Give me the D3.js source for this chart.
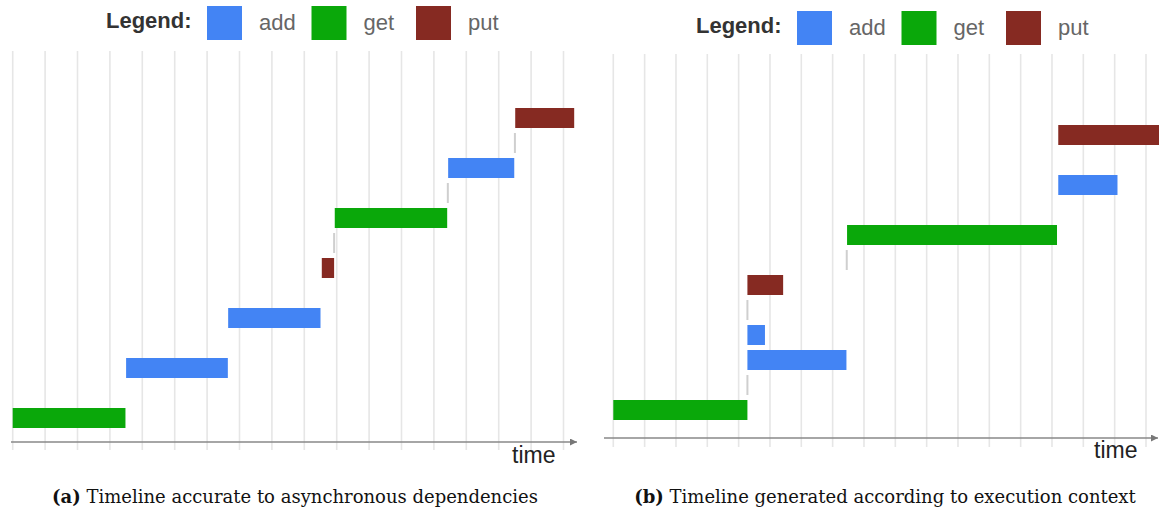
<html>
<head>
    <script src="https://d3js.org/d3.v7.min.js"></script>
    <style type="text/css">
        body { margin: 0; background: #fff; }
        line.grid { stroke: #e6e6e6; stroke-width: 1.6; }
        line.conn { stroke: #cfcfcf; stroke-width: 2; }
        line.axis { stroke: #888; stroke-width: 1.5; }
        text.legtitle { font-family: "Liberation Sans", Arial, sans-serif; font-weight: bold; font-size: 22px; fill: #333; }
        text.legitem { font-family: "Liberation Sans", Arial, sans-serif; font-size: 22px; fill: #666; }
        text.time { font-family: "Liberation Sans", Arial, sans-serif; font-size: 23px; fill: #222; }
        text.caption { font-family: "DejaVu Serif", serif; font-size: 18px; fill: #111; }
    </style>
</head>

<body>
    <svg></svg>

    <script>
        // operation kinds and colours
        const Kinds = ["add", "get", "put"];
        const KindColors = ["#4384f4", "#0aa80a", "#862a22"];

        // (a) timeline accurate to asynchronous dependencies
        const opsA   = ["get", "add", "add", "put", "get", "add", "put"];
        const startA = [0,     3.50,  6.65,  9.54,  9.94,  13.44, 15.51];
        const endA   = [3.48,  6.64,  9.50,  9.92,  13.41, 15.48, 17.33];
        const laneA  = [0,     2,     4,     6,     8,     10,    12];
        const connTimeA = [9.92, 13.43, 15.50];
        const connLowA  = [6, 8, 10];
        const connHighA = [8, 10, 12];

        // (b) timeline generated according to execution context
        const opsB   = ["get", "add", "add", "put", "get", "add", "put"];
        const startB = [0,     4.28,  4.28,  4.28,  7.46,  14.20, 14.20];
        const endB   = [4.28,  7.44,  4.84,  5.42,  14.16, 16.09, 17.80];
        const laneB  = [0,     2,     3,     5,     7,     9,     11];
        const connTimeB = [4.28, 4.28, 7.45];
        const connLowB  = [0, 3, 5];
        const connHighB = [2, 5, 7];

        const NTicks = 17;

        const Width = 1159, Height = 510, BarH = 20;

        var svg = d3.select("svg")
            .attr("width", Width).attr("height", Height);

        svg.append("rect").attr("width", Width).attr("height", Height).attr("fill", "#fff");

        svg.append("defs").append("marker")
            .attr("id", "arrow")
            .attr("viewBox", "0 0 10 10")
            .attr("refX", 10).attr("refY", 5)
            .attr("markerWidth", 9).attr("markerHeight", 7)
            .attr("markerUnits", "userSpaceOnUse")
            .attr("orient", "auto")
            .append("path").attr("d", "M0,0 L10,5 L0,10 Z").attr("fill", "#777");

        function drawPanel(p)
        {
            var g = svg.append("g");
            var x = d3.scaleLinear().domain([0, NTicks]).range(p.xRange);
            var y = d3.scaleLinear().domain([0, 12]).range(p.yRange);
            var color = d3.scaleOrdinal().domain(Kinds).range(KindColors);

            // vertical grid
            g.selectAll("line.grid")
                .data(x.ticks(NTicks))
                .enter().append("line").classed("grid", true)
                    .attr("x1", (d) => x(d)).attr("x2", (d) => x(d))
                    .attr("y1", p.gridTop).attr("y2", p.gridBottom);

            // time axis
            g.append("line").classed("axis", true)
                .attr("x1", p.axisX[0]).attr("x2", p.axisX[1])
                .attr("y1", p.axisY).attr("y2", p.axisY)
                .attr("marker-end", "url(#arrow)");

            g.append("text").classed("time", true)
                .attr("x", p.timeX).attr("y", p.timeY)
                .text("time");

            // dependency connectors
            g.selectAll("line.conn")
                .data(p.connTime)
                .enter().append("line").classed("conn", true)
                    .attr("x1", (d) => x(d)).attr("x2", (d) => x(d))
                    .attr("y1", (d, i) => y(p.connHigh[i]) + BarH + 5)
                    .attr("y2", (d, i) => y(p.connLow[i]) - 5);

            // operation bars
            g.selectAll("rect.op")
                .data(p.ops)
                .enter().append("rect").classed("op", true)
                    .attr("x", (d, i) => x(p.start[i]))
                    .attr("y", (d, i) => y(p.lane[i]))
                    .attr("width", (d, i) => x(p.end[i]) - x(p.start[i]))
                    .attr("height", BarH)
                    .attr("fill", (d) => color(d));

            // legend
            var leg = g.append("g").attr("transform", "translate(" + p.legend[0] + " " + p.legend[1] + ")");
            leg.append("text").classed("legtitle", true)
                .attr("x", 0).attr("y", 22).text("Legend:");
            var items = leg.selectAll("g.item")
                .data(Kinds)
                .enter().append("g").classed("item", true)
                    .attr("transform", (d, i) => "translate(" + (101 + i * 104.5) + " 0)");
            items.append("rect")
                .attr("x", 0).attr("y", 0).attr("width", 35).attr("height", 34)
                .attr("fill", (d) => color(d));
            items.append("text").classed("legitem", true)
                .attr("x", 52).attr("y", 24).text((d) => d);

            // caption
            var cap = svg.append("text").classed("caption", true)
                .attr("x", p.captionX).attr("y", 503)
                .attr("text-anchor", "middle");
            cap.append("tspan").attr("font-weight", "bold").text(p.captionTag);
            cap.append("tspan").text(" " + p.caption);
        }

        drawPanel({
            ops: opsA, start: startA, end: endA, lane: laneA,
            connTime: connTimeA, connLow: connLowA, connHigh: connHighA,
            xRange: [12.7, 563.5], yRange: [408, 108],
            gridTop: 51, gridBottom: 450,
            axisX: [11, 577], axisY: 442,
            timeX: 512, timeY: 463,
            legend: [106, 6],
            captionX: 295, captionTag: "(a)",
            caption: "Timeline accurate to asynchronous dependencies"
        });

        drawPanel({
            ops: opsB, start: startB, end: endB, lane: laneB,
            connTime: connTimeB, connLow: connLowB, connHigh: connHighB,
            xRange: [613.3, 1146], yRange: [400, 100],
            gridTop: 54, gridBottom: 447,
            axisX: [604, 1158], axisY: 438,
            timeX: 1094, timeY: 458,
            legend: [696, 11],
            captionX: 885, captionTag: "(b)",
            caption: "Timeline generated according to execution context"
        });
    </script>
</body>

</html>
